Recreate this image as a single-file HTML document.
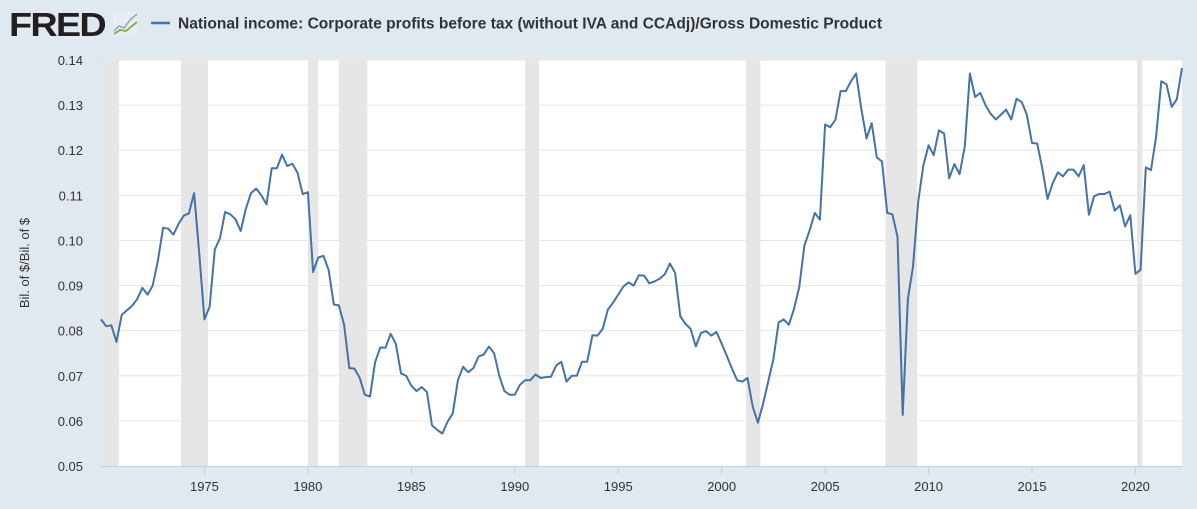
<!DOCTYPE html>
<html><head><meta charset="utf-8"><style>
html,body{margin:0;padding:0;background:#e1e9f0;}
svg{display:block;font-family:"Liberation Sans",sans-serif;}
</style></head><body>
<svg id="chart" width="1197" height="509" viewBox="0 0 1197 509" xmlns="http://www.w3.org/2000/svg">
<rect x="0" y="0" width="1197" height="509" fill="#e1e9f0"/>
<g>
<text x="9" y="36" font-size="33" font-weight="bold" fill="#231f20" letter-spacing="-1.5" textLength="96" lengthAdjust="spacingAndGlyphs">FRED</text>
<rect x="113" y="12" width="25" height="24" fill="#e8edf2"/>
<polyline points="114,31 119,26 124,28 130,20 137,14" fill="none" stroke="#8aa6c8" stroke-width="1.5"/>
<polyline points="114,34 120,30 126,31 132,26 137,22" fill="none" stroke="#7fae4a" stroke-width="1.8"/>
</g>
<line x1="151" y1="23" x2="170" y2="23" stroke="#4572a7" stroke-width="2.5"/>
<text x="178" y="28.5" font-size="15.5" font-weight="bold" fill="#333" textLength="704" lengthAdjust="spacingAndGlyphs">National income: Corporate profits before tax (without IVA and CCAdj)/Gross Domestic Product</text>
<rect x="101" y="60" width="1081" height="406" fill="#fff"/>
<g id="rec"></g>
<g id="grid"></g>
<g id="yticks"></g>
<g id="xticks"></g>
<text transform="translate(29,263) rotate(-90)" text-anchor="middle" font-size="13" fill="#333">Bil. of $/Bil. of $</text>
<g id="series"></g>
</svg>
<script>
const startYear = 1970.0;
const values = [
0.0825,0.0810,0.0812,0.0775, 0.0835,0.0845,0.0855,0.0870, 0.0895,0.0880,0.0900,0.0955,
0.1028,0.1026,0.1013,0.1037, 0.1055,0.1060,0.1105,0.0970, 0.0825,0.0853,0.0980,0.1005,
0.1063,0.1058,0.1047,0.1021, 0.1070,0.1105,0.1115,0.1100, 0.1080,0.1160,0.1160,0.1190,
0.1165,0.1170,0.1150,0.1103, 0.1107,0.0930,0.0962,0.0966, 0.0935,0.0858,0.0856,0.0813,
0.0717,0.0716,0.0696,0.0658, 0.0654,0.0730,0.0763,0.0762, 0.0793,0.0771,0.0705,0.0700,
0.0678,0.0666,0.0675,0.0664, 0.0590,0.0580,0.0572,0.0598, 0.0616,0.0690,0.0720,0.0708,
0.0717,0.0743,0.0747,0.0765, 0.0750,0.0700,0.0666,0.0658, 0.0658,0.0680,0.0690,0.0690,
0.0703,0.0695,0.0697,0.0698, 0.0723,0.0731,0.0687,0.0700, 0.0700,0.0731,0.0731,0.0790,
0.0789,0.0804,0.0847,0.0862, 0.0880,0.0898,0.0907,0.0900, 0.0923,0.0922,0.0905,0.0909,
0.0915,0.0925,0.0949,0.0928, 0.0832,0.0815,0.0804,0.0765, 0.0795,0.0799,0.0789,0.0797,
0.0771,0.0744,0.0716,0.0690, 0.0687,0.0695,0.0632,0.0596, 0.0637,0.0687,0.0737,0.0818,
0.0825,0.0813,0.0849,0.0897, 0.0989,0.1022,0.1061,0.1046, 0.1257,0.1251,0.1268,0.1331,
0.1331,0.1353,0.1370,0.1292, 0.1226,0.1260,0.1184,0.1175, 0.1061,0.1058,0.1008,0.0613,
0.0871,0.0942,0.1086,0.1167, 0.1211,0.1189,0.1244,0.1237, 0.1138,0.1169,0.1147,0.1208,
0.1370,0.1318,0.1327,0.1300, 0.1281,0.1268,0.1279,0.1290, 0.1268,0.1314,0.1307,0.1279,
0.1216,0.1215,0.1160,0.1092, 0.1127,0.1151,0.1142,0.1157, 0.1157,0.1142,0.1167,0.1057,
0.1098,0.1103,0.1103,0.1108, 0.1066,0.1078,0.1031,0.1056, 0.0926,0.0935,0.1162,0.1156,
0.1230,0.1353,0.1346,0.1296, 0.1313,0.1382
];
const recStarts = [1969.92, 1973.87, 1980.0, 1981.5, 1990.5, 2001.17, 2007.92, 2020.08];
const recEnds   = [1970.87, 1975.17, 1980.5, 1982.87, 1991.17, 2001.87, 2009.45, 2020.33];
const yTicks = [0.05,0.06,0.07,0.08,0.09,0.10,0.11,0.12,0.13,0.14];
const yTickLabels = ["0.05","0.06","0.07","0.08","0.09","0.10","0.11","0.12","0.13","0.14"];
const xTicks = [1975,1980,1985,1990,1995,2000,2005,2010,2015,2020];

const NS="http://www.w3.org/2000/svg";
const L=101,R=1182,T=60,B=466;
const endYear = startYear + (values.length-1)/4;
const xS = y => L + (y-startYear)/(endYear-startYear)*(R-L);
const yS = v => B - (v-0.05)/(0.14-0.05)*(B-T);
function mk(tag, attrs, parent){const e=document.createElementNS(NS,tag);for(const k in attrs)e.setAttribute(k,attrs[k]);parent.appendChild(e);return e;}

const rec=document.getElementById('rec');
recStarts.forEach((s,i)=>{
  const x1=Math.max(L,xS(s)), x2=Math.min(R,xS(recEnds[i]));
  const r=mk('rect',{x:x1,y:T,width:x2-x1,height:B-T,fill:'#e6e6e6'},rec);
  
  
});
const grid=document.getElementById('grid'), yt=document.getElementById('yticks');
yTicks.forEach((v,i)=>{
  const y=yS(v);
  if(v>0.05){const g=mk('line',{x1:L,x2:R,y1:y,y2:y,stroke:'#e6e6e6','stroke-width':1},grid);
  
  }
  const t=mk('text',{x:83,y:y+5,'text-anchor':'end','font-size':13,fill:'#333'},yt);
  t.textContent=yTickLabels[i];
  
  
});
const xa=mk('line',{x1:L,x2:R,y1:B+0.5,y2:B+0.5,stroke:'#c0d0e0','stroke-width':1},grid);


const xt=document.getElementById('xticks');
xTicks.forEach(yr=>{
  const x=xS(yr);
  const tk=mk('line',{x1:x,x2:x,y1:B,y2:B+8,stroke:'#c0d0e0'},xt);
  
  
  const t=mk('text',{x:x,y:B+25,'text-anchor':'middle','font-size':13,fill:'#333'},xt);
  t.textContent=yr;
  
  
});
const pts=values.map((v,i)=>xS(startYear+i/4).toFixed(1)+','+yS(v).toFixed(1)).join(' ');
const line=mk('polyline',{points:pts,fill:'none',stroke:'#4572a7','stroke-width':2,'stroke-linejoin':'round'},document.getElementById('series'));


</script>
</body></html>
